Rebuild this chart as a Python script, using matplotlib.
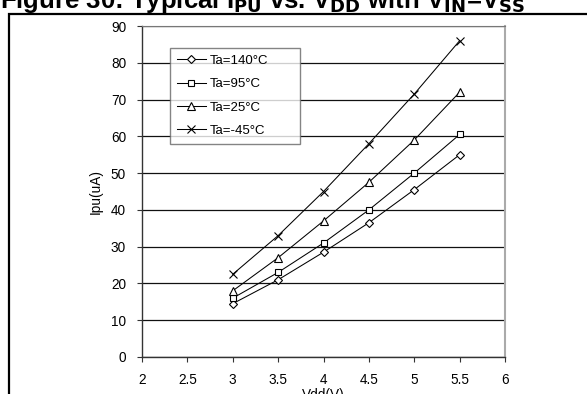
import matplotlib.pyplot as plt
from matplotlib.patches import Rectangle

plt.rcParams['font.family'] = ['Liberation Sans', 'DejaVu Sans']

vdd = [3, 3.5, 4, 4.5, 5, 5.5]
ipu_140 = [14.5, 21, 28.5, 36.5, 45.5, 55]
ipu_95 = [16, 23, 31, 40, 50, 60.5]
ipu_25 = [18, 27, 37, 47.5, 59, 72]
ipu_m45 = [22.5, 33, 45, 58, 71.5, 86]

labels = ['Ta=140°C', 'Ta=95°C', 'Ta=25°C', 'Ta=-45°C']
markers = ['D', 's', '^', 'x']
sizes = [4.3, 5, 5.5, 6]

xticks = [2, 2.5, 3, 3.5, 4, 4.5, 5, 5.5, 6]
yticks = [0, 10, 20, 30, 40, 50, 60, 70, 80, 90]

W, H = 587, 394
fig = plt.figure(figsize=(W / 100, H / 100), dpi=100)

# outer frame of the figure box
fig.patches.append(Rectangle((9 / W, -0.1), 1.0, 0.1 + (H - 14) / H,
                             transform=fig.transFigure, fill=False,
                             edgecolor='black', linewidth=1.6))

fig.text(0.0, 1.0 - 8 / H,
         'Figure 30: Typical I$_{\\mathbf{PU}}$ vs. V$_{\\mathbf{DD}}$ with V$_{\\mathbf{IN}}$=V$_{\\mathbf{SS}}$',
         fontsize=18.5, fontweight='bold', va='baseline', ha='left')

ax = fig.add_axes([142 / W, 37 / H, 363 / W, 331 / H])

series = [ipu_140, ipu_95, ipu_25, ipu_m45]
for vals, lab, m, s in zip(series, labels, markers, sizes):
    ax.plot(vdd, vals, color='black', linewidth=0.75, marker=m, markersize=s,
            markerfacecolor='white', markeredgecolor='black',
            markeredgewidth=0.8, label=lab)

ax.set_xlim(2, 6)
ax.set_ylim(0, 90)
ax.set_xticks(xticks)
ax.set_xticklabels(['2', '2.5', '3', '3.5', '4', '4.5', '5', '5.5', '6'])
ax.set_yticks(yticks)
ax.tick_params(labelsize=9.8, direction='out', length=3.5, width=0.8,
               color='#333333')
ax.tick_params(axis='y', pad=8)
ax.tick_params(axis='x', pad=8)
ax.yaxis.grid(True, color='#111111', linewidth=0.9)
ax.set_axisbelow(True)

for side in ['left', 'bottom']:
    ax.spines[side].set_color('#333333')
    ax.spines[side].set_linewidth(1.0)
ax.spines['right'].set_color('#aaaaaa')
ax.spines['right'].set_linewidth(1.5)
ax.spines['top'].set_color('#777777')
ax.spines['top'].set_linewidth(0.8)

ax.set_xlabel('Vdd(V)', fontsize=9.8, labelpad=1)
ax.set_ylabel('Ipu(uA)', fontsize=9.8, labelpad=6)

leg = ax.legend(loc='upper left', bbox_to_anchor=(28 / 363, 0.934, 130 / 363, 0.0),
                mode='expand', fontsize=9.5, frameon=True, fancybox=False,
                handlelength=2.2, handletextpad=0.35, labelspacing=0.85,
                borderpad=0.5, borderaxespad=0.0)
leg.get_frame().set_edgecolor('#666666')
leg.get_frame().set_linewidth(1.0)

fig.savefig('out.png', dpi=100)
